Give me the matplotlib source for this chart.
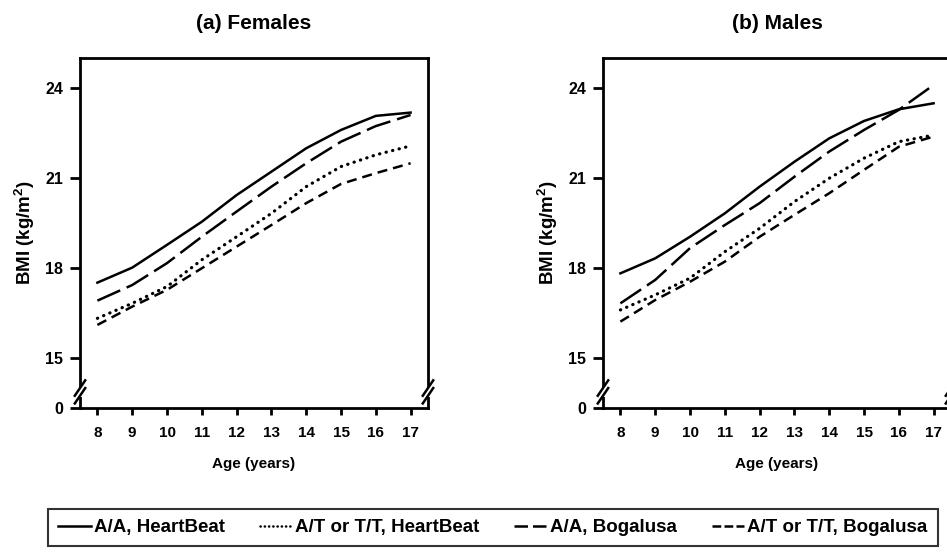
import matplotlib
matplotlib.use("Agg")
import matplotlib.pyplot as plt
from matplotlib.lines import Line2D

plt.rcParams['font.family'] = ['Liberation Sans', 'DejaVu Sans']
plt.rcParams['font.weight'] = 'bold'
plt.rcParams['mathtext.fontset'] = 'custom'
plt.rcParams['mathtext.bf'] = 'Liberation Sans:bold'
plt.rcParams['mathtext.rm'] = 'Liberation Sans:bold'

ages = [8, 9, 10, 11, 12, 13, 14, 15, 16, 17]

fem_aa_hb = [17.51, 18.01, 18.77, 19.54, 20.43, 21.21, 21.99, 22.60, 23.07, 23.18]
fem_at_hb = [16.32, 16.82, 17.38, 18.27, 19.04, 19.82, 20.71, 21.38, 21.77, 22.07]
fem_aa_bg = [16.91, 17.43, 18.16, 19.04, 19.88, 20.71, 21.49, 22.21, 22.73, 23.10]
fem_at_bg = [16.10, 16.71, 17.27, 17.99, 18.71, 19.43, 20.16, 20.80, 21.16, 21.49]

mal_aa_hb = [17.82, 18.32, 19.04, 19.82, 20.71, 21.54, 22.32, 22.90, 23.29, 23.49]
mal_at_hb = [16.60, 17.10, 17.66, 18.54, 19.32, 20.21, 20.99, 21.66, 22.21, 22.43]
mal_aa_bg = [16.82, 17.60, 18.66, 19.43, 20.16, 21.04, 21.88, 22.60, 23.27, 24.10]
mal_at_bg = [16.21, 16.93, 17.54, 18.21, 19.04, 19.77, 20.49, 21.27, 22.04, 22.38]

labels = ["A/A, HeartBeat", "A/T or T/T, HeartBeat", "A/A, Bogalusa", "A/T or T/T, Bogalusa"]
titles = ["(a) Females", "(b) Males"]
ytick_vals = [15, 18, 21, 24]
ybottom = 13.33
ytop = 25.0

styles = [
    dict(linestyle='-', linewidth=1.8),
    dict(linestyle=(0, (0.1, 2.0)), linewidth=2.3, dash_capstyle='round'),
    dict(linestyle=(0, (10, 2.8)), linewidth=1.8),
    dict(linestyle=(0, (4, 2.4)), linewidth=1.8),
]

W, H = 947, 553
fig = plt.figure(figsize=(W / 100, H / 100), dpi=100)

panels = [
    (80, [fem_aa_hb, fem_at_hb, fem_aa_bg, fem_at_bg]),
    (603, [mal_aa_hb, mal_at_hb, mal_aa_bg, mal_at_bg]),
]

for (left_px, series), title in zip(panels, titles):
    ax = fig.add_axes([left_px / W, (H - 408) / H, 348 / W, 350 / H])
    for s, st in zip(series, styles):
        ax.plot(ages, s, color='black', **st)
    ax.set_xlim(7.5, 17.5)
    ax.set_ylim(ybottom, ytop)
    ax.set_xticks(ages)
    ax.set_yticks([ybottom] + ytick_vals)
    ax.set_yticklabels(["0"] + [str(v) for v in ytick_vals])
    for sp in ax.spines.values():
        sp.set_linewidth(2.0)
    ax.tick_params(axis='y', direction='out', length=7, width=2.0,
                   labelsize=11.5, pad=5)
    ax.tick_params(axis='x', direction='out', length=5, width=2.0,
                   labelsize=11, pad=8)
    for lab in ax.get_xticklabels() + ax.get_yticklabels():
        lab.set_fontweight('bold')
    ax.set_xlabel("Age (years)", fontsize=11, fontweight='bold', labelpad=12)
    ax.set_ylabel("BMI (kg/m$^\\mathbf{2}$)", fontsize=13.5, fontweight='bold', labelpad=6)
    ax.set_title(title, fontsize=15, fontweight='bold', pad=21)

    # axis break marks on both vertical spines
    yb = 0.046
    for xs in (0.0, 1.0):
        ax.plot([xs, xs], [yb - 0.014, yb + 0.014], color='white', linewidth=4,
                transform=ax.transAxes, clip_on=False, zorder=5,
                solid_capstyle='butt')
        for off in (-0.011, 0.011):
            ax.plot([xs - 0.015, xs + 0.015], [yb + off - 0.022, yb + off + 0.022],
                    color='black', linewidth=1.8, transform=ax.transAxes,
                    clip_on=False, zorder=6)

handles = [
    Line2D([], [], color='black', linewidth=1.8, linestyle='-'),
    Line2D([], [], color='black', linewidth=1.8, linestyle=(0, (0.1, 1.6)),
           dash_capstyle='round'),
    Line2D([], [], color='black', linewidth=1.8, linestyle=(0, (5.4, 2.0))),
    Line2D([], [], color='black', linewidth=1.8, linestyle=(0, (3.5, 1.3))),
]
leg = fig.legend(handles, labels, loc='center',
                 bbox_to_anchor=((44 + 942) / 2 / W, (H - 527.5) / H),
                 ncol=4, frameon=True, fancybox=False,
                 handlelength=1.75, handletextpad=0.15, columnspacing=1.85,
                 borderpad=0.55, borderaxespad=0,
                 prop={'weight': 'bold', 'size': 13.5})
leg.get_frame().set_edgecolor('black')
leg.get_frame().set_linewidth(1.5)

fig.savefig("out.png", dpi=100)
